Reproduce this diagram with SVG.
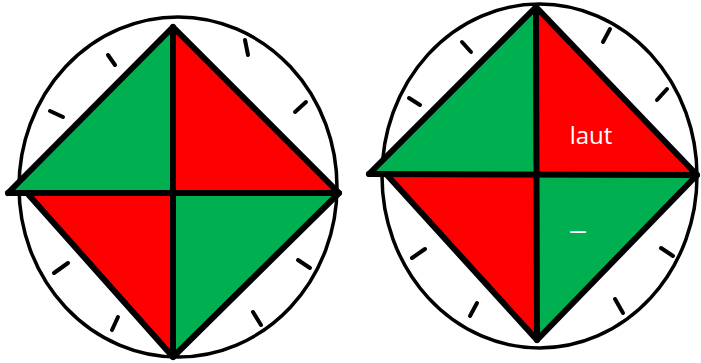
<svg xmlns="http://www.w3.org/2000/svg" width="701" height="363" viewBox="0 0 701 363">
<style>
.ring{fill:none;stroke:#000;stroke-width:3.5}
.tick{stroke:#000;stroke-width:4;stroke-linecap:round}
.g{fill:#00B050}
.r{fill:#FF0000}
.edge{fill:none;stroke:#000;stroke-width:6;stroke-linecap:round;stroke-linejoin:round}
.lbl{font-family:"Open Sans","Liberation Sans",sans-serif;font-size:24px;fill:#fff;text-anchor:middle}
.dash{font-family:"Liberation Sans",sans-serif;font-size:28px;fill:#fff;text-anchor:middle}
</style>
<rect width="701" height="363" fill="#fff"/>
<g id="left">
<ellipse class="ring" cx="178" cy="187" rx="159" ry="170"/>
<g class="ticks">
<line class="tick" x1="108" y1="55" x2="115" y2="65"/>
<line class="tick" x1="50" y1="111" x2="63" y2="117"/>
<line class="tick" x1="245" y1="40" x2="248" y2="55"/>
<line class="tick" x1="295" y1="112" x2="306" y2="102"/>
<line class="tick" x1="54" y1="273" x2="68" y2="263"/>
<line class="tick" x1="112" y1="330" x2="118" y2="317"/>
<line class="tick" x1="298" y1="260" x2="310" y2="268"/>
<line class="tick" x1="253" y1="312" x2="261" y2="325"/>
</g>
<polygon class="g" points="173,27 8,193 173,193"/>
<polygon class="r" points="173,27 339,193 173,193"/>
<polygon class="r" points="27,193 173,357 173,193"/>
<polygon class="g" points="173,193 339,193 173,357"/>
<polyline class="edge" points="8,193 173,27 339,193 173,357 27,193"/>
<line class="edge" x1="8" y1="193" x2="339" y2="193"/>
<line class="edge" x1="173" y1="27" x2="173" y2="357"/>
</g>
<g id="right">
<ellipse class="ring" cx="539.5" cy="176" rx="157.5" ry="172"/>
<g class="ticks">
<line class="tick" x1="462" y1="42" x2="471" y2="52"/>
<line class="tick" x1="409" y1="98" x2="420" y2="105"/>
<line class="tick" x1="603" y1="42" x2="610" y2="29"/>
<line class="tick" x1="657" y1="100" x2="667" y2="89"/>
<line class="tick" x1="412" y1="258" x2="425" y2="249"/>
<line class="tick" x1="470" y1="316" x2="477" y2="303"/>
<line class="tick" x1="661" y1="248" x2="673" y2="256"/>
<line class="tick" x1="615" y1="299" x2="623" y2="313"/>
</g>
<polygon class="g" points="536,7 369,174 537,175"/>
<polygon class="r" points="536,7 697,175 537,175"/>
<polygon class="r" points="387,175 537,340 537,175"/>
<polygon class="g" points="537,175 697,175 537,340"/>
<polyline class="edge" points="369,174 536,7 697,175 537,340 387,175"/>
<line class="edge" x1="369" y1="174" x2="697" y2="175"/>
<line class="edge" x1="536" y1="7" x2="537" y2="340"/>
<text class="lbl" x="591" y="144">laut</text>
<text class="dash" x="578" y="239">–</text>
</g>
</svg>
